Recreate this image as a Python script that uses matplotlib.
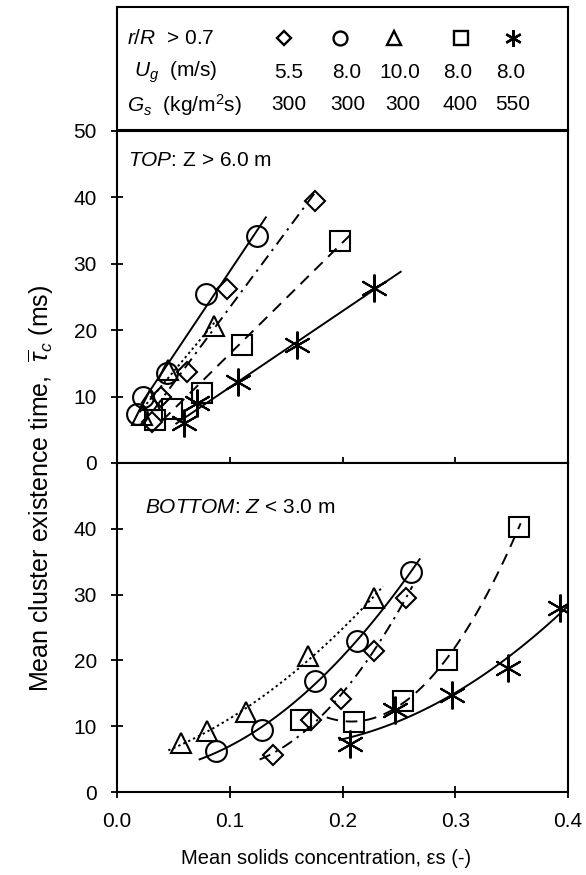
import numpy as np
import matplotlib
matplotlib.use("Agg")
import matplotlib.pyplot as plt

plt.rcParams['font.family'] = ['Liberation Sans', 'DejaVu Sans']
plt.rcParams['mathtext.fontset'] = 'custom'
plt.rcParams['mathtext.rm'] = 'Liberation Sans'
plt.rcParams['mathtext.it'] = 'Liberation Sans:italic'
plt.rcParams['mathtext.bf'] = 'Liberation Sans:bold'

# ---------------- data ----------------
series_names = ['diamond', 'circle', 'triangle', 'square', 'star']
ug_values = ['5.5', '8.0', '10.0', '8.0', '8.0']
gs_values = ['300', '300', '300', '400', '550']

# TOP: Z > 6.0 m
top_diamond_x = [0.031, 0.039, 0.062, 0.098, 0.176]
top_diamond_y = [6.2, 10.0, 13.7, 26.2, 39.5]
top_circle_x = [0.0175, 0.0233, 0.044, 0.0786, 0.1245]
top_circle_y = [7.4, 9.9, 13.6, 25.4, 34.2]
top_triangle_x = [0.022, 0.029, 0.045, 0.086]
top_triangle_y = [7.2, 9.5, 14.0, 20.6]
top_square_x = [0.0337, 0.0485, 0.075, 0.111, 0.1975]
top_square_y = [6.5, 8.2, 10.5, 17.8, 33.4]
top_star_x = [0.059, 0.0707, 0.1076, 0.1596, 0.228]
top_star_y = [6.0, 9.0, 12.2, 17.8, 26.3]

# BOTTOM: Z < 3.0 m
bot_diamond_x = [0.138, 0.172, 0.199, 0.2277, 0.256]
bot_diamond_y = [5.6, 10.9, 14.1, 21.5, 29.5]
bot_circle_x = [0.088, 0.1286, 0.176, 0.213, 0.2605]
bot_circle_y = [6.2, 9.4, 16.9, 23.0, 33.4]
bot_triangle_x = [0.057, 0.0798, 0.1147, 0.169, 0.2277]
bot_triangle_y = [7.4, 9.2, 12.1, 20.6, 29.5]
bot_square_x = [0.1635, 0.21, 0.254, 0.293, 0.3565]
bot_square_y = [10.9, 10.6, 13.9, 20.1, 40.3]
bot_star_x = [0.207, 0.247, 0.297, 0.3468, 0.3926]
bot_star_y = [7.3, 12.4, 14.7, 18.9, 27.9]

# trend-line x ranges
top_fit_range = {'diamond': (0.033, 0.175), 'circle': (0.022, 0.132),
                 'triangle': (0.02, 0.088), 'square': (0.04, 0.208),
                 'star': (0.0526, 0.2516)}
bot_fit_range = {'diamond': (0.1265, 0.262), 'circle': (0.0733, 0.2684),
                 'triangle': (0.0455, 0.236), 'square': (0.186, 0.358),
                 'star': (0.1975, 0.400)}
# first point used in the trend fit (bottom square curve starts after its first point)
bot_fit_first = {'diamond': 0, 'circle': 0, 'triangle': 0, 'square': 1, 'star': 0}
top_fit_first = {'diamond': 0, 'circle': 0, 'triangle': 0, 'square': 0, 'star': 0}

# ---------------- styles ----------------
mk = {'diamond': dict(marker='D', ms=10.5),
      'circle': dict(marker='o', ms=15),
      'triangle': dict(marker='^', ms=15),
      'square': dict(marker='s', ms=15),
      'star': dict(marker=(6, 2, 0), ms=20)}
ls = {'diamond': (0, (6, 3, 1.2, 3)),
      'circle': '-',
      'triangle': (0, (1.2, 1.6)),
      'square': (0, (6, 4)),
      'star': '-'}

W, H = 586, 875
fig = plt.figure(figsize=(W / 100, H / 100), dpi=100)

def fx(px):
    return px / W

def fy(py):
    return 1 - py / H

L, R = 117, 568
ax_head = fig.add_axes([fx(L), fy(130), fx(R) - fx(L), fy(7) - fy(130)])
ax_top = fig.add_axes([fx(L), fy(463), fx(R) - fx(L), fy(131) - fy(463)])
ax_bot = fig.add_axes([fx(L), fy(792), fx(R) - fx(L), fy(463) - fy(792)])

for a in (ax_head, ax_top, ax_bot):
    for s in a.spines.values():
        s.set_linewidth(1.5)

# ---------------- header ----------------
ax_head.set_xlim(L, R)
ax_head.set_ylim(130, 7)
ax_head.set_xticks([])
ax_head.set_yticks([])
fs = 15
ax_head.text(127, 38, r'$r/R$  > 0.7', fontsize=fs, va='center', ha='left')
ax_head.text(134, 72, r'$U_g$  (m/s)', fontsize=fs, va='center', ha='left')
ax_head.text(127, 105, r'$G_s$  (kg/m$^2$s)', fontsize=fs, va='center', ha='left')
sym_cols = [284, 340, 394, 461, 513]
ug_cols = [289, 347, 400, 458, 511]
gs_cols = [289, 348, 403, 460, 513]
head_ms = {'diamond': 7.2, 'circle': 10, 'triangle': 9.5, 'square': 9.5, 'star': 12}
for i, name in enumerate(series_names):
    ax_head.plot([sym_cols[i]], [38], linestyle='none', marker=mk[name]['marker'],
                 ms=head_ms[name], mfc='white', mec='black', mew=1.7)
    ax_head.text(ug_cols[i], 72, ug_values[i], fontsize=fs, ha='center', va='center')
    ax_head.text(gs_cols[i], 105, gs_values[i], fontsize=fs, ha='center', va='center')

# ---------------- panels ----------------
def draw_panel(ax, data, ranges, first, deg):
    order = ['star', 'square', 'diamond', 'triangle', 'circle']
    for name in order:
        x, y = data[name]
        k = first[name]
        x0, x1 = ranges[name]
        coef = np.polyfit(x[k:], y[k:], deg)
        xx = np.linspace(x0, x1, 100)
        ax.plot(xx, np.polyval(coef, xx), color='black', lw=1.4, linestyle=ls[name],
                zorder=2)
    for name in order:
        x, y = data[name]
        ax.plot(x, y, linestyle='none', marker=mk[name]['marker'], ms=mk[name]['ms'],
                mfc='none', mec='black', mew=1.5, zorder=3)
    ax.set_xlim(0, 0.4)
    ax.set_ylim(0, 50)
    ax.set_xticks([0.0, 0.1, 0.2, 0.3, 0.4])
    ax.tick_params(direction='inout', length=9, width=1.3, labelsize=15, pad=10)

top_data = {'diamond': (top_diamond_x, top_diamond_y), 'circle': (top_circle_x, top_circle_y),
            'triangle': (top_triangle_x, top_triangle_y), 'square': (top_square_x, top_square_y),
            'star': (top_star_x, top_star_y)}
bot_data = {'diamond': (bot_diamond_x, bot_diamond_y), 'circle': (bot_circle_x, bot_circle_y),
            'triangle': (bot_triangle_x, bot_triangle_y), 'square': (bot_square_x, bot_square_y),
            'star': (bot_star_x, bot_star_y)}

draw_panel(ax_top, top_data, top_fit_range, top_fit_first, 1)
draw_panel(ax_bot, bot_data, bot_fit_range, bot_fit_first, 2)

ax_top.set_yticks([0, 10, 20, 30, 40, 50])
ax_top.set_xticklabels([])
ax_bot.set_yticks([0, 10, 20, 30, 40])
ax_bot.set_xticklabels(['0.0', '0.1', '0.2', '0.3', '0.4'])

ax_top.text(0.025, 0.91, r'$\mathit{TOP}$: Z > 6.0 m', transform=ax_top.transAxes,
            fontsize=15, ha='left', va='center')
ax_bot.text(0.062, 0.865, r'$\mathit{BOTTOM}$: $\mathit{Z}$ < 3.0 m', transform=ax_bot.transAxes,
            fontsize=15, ha='left', va='center')

fig.text(fx(326), fy(858), 'Mean solids concentration, εs (-)', fontsize=14.5,
         ha='center', va='center')
fig.text(fx(41), fy(488), r'Mean cluster existence time,  $\overline{\tau}_c$ (ms)',
         fontsize=18, ha='center', va='center', rotation=90)

fig.savefig('out.png', dpi=100)
